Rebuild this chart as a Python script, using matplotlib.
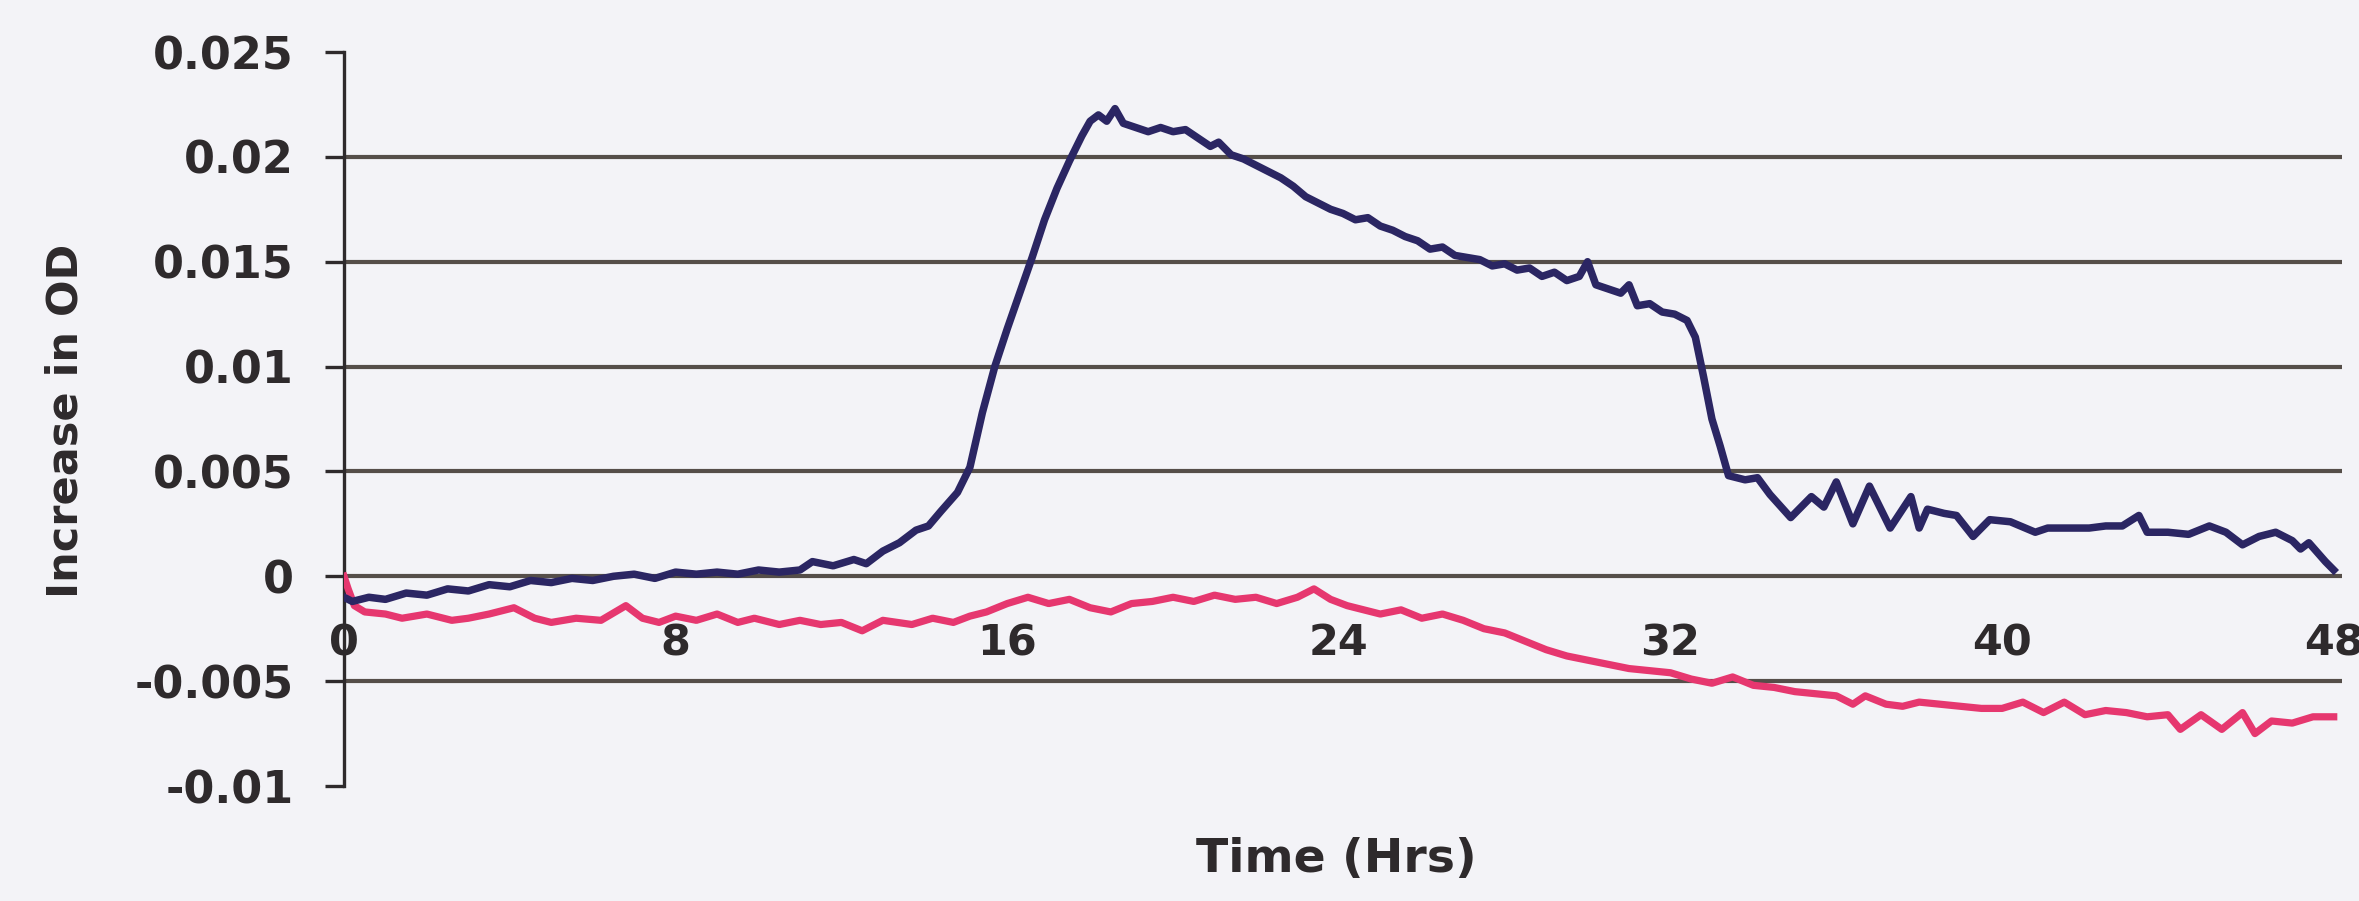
import matplotlib
matplotlib.use("Agg")
import matplotlib.pyplot as plt

# Time course of optical density change (hours vs. increase in OD)
hours_a = [0.0, 0.2, 0.6, 1.0, 1.5, 2.0, 2.5, 3.0, 3.5, 4.0, 4.5, 5.0, 5.5, 6.0,
           6.5, 7.0, 7.5, 8.0, 8.5, 9.0, 9.5, 10.0, 10.5, 11.0, 11.3, 11.8, 12.3,
           12.6, 13.0, 13.4, 13.8, 14.1, 14.4, 14.8, 15.1, 15.4, 15.7, 16.0, 16.3,
           16.6, 16.9, 17.2, 17.5, 17.8, 18.0, 18.2, 18.4, 18.6, 18.8, 19.1, 19.4,
           19.7, 20.0, 20.3, 20.6, 20.9, 21.1, 21.4, 21.7, 22.0, 22.3, 22.6, 22.9,
           23.2, 23.5, 23.8, 24.1, 24.4, 24.7, 25.0, 25.3, 25.6, 25.9, 26.2, 26.5,
           26.8, 27.1, 27.4, 27.7, 28.0, 28.3, 28.6, 28.9, 29.2, 29.5, 29.8, 30.0,
           30.2, 30.5, 30.8, 31.0, 31.2, 31.5, 31.8, 32.1, 32.4, 32.6, 32.8, 33.0,
           33.2, 33.4, 33.8, 34.1, 34.4, 34.9, 35.4, 35.7, 36.0, 36.4, 36.8, 37.3,
           37.8, 38.0, 38.2, 38.6, 38.9, 39.3, 39.7, 40.2, 40.8, 41.1, 41.6, 42.1,
           42.5, 42.9, 43.3, 43.5, 44.0, 44.5, 45.0, 45.4, 45.8, 46.2, 46.6, 47.0,
           47.2, 47.4, 47.8, 48.0]
od_a = [-0.0010, -0.0012, -0.0010, -0.0011, -0.0008, -0.0009, -0.0006, -0.0007,
        -0.0004, -0.0005, -0.0002, -0.0003, -0.0001, -0.0002, 0.0000, 0.0001,
        -0.0001, 0.0002, 0.0001, 0.0002, 0.0001, 0.0003, 0.0002, 0.0003, 0.0007,
        0.0005, 0.0008, 0.0006, 0.0012, 0.0016, 0.0022, 0.0024, 0.0031, 0.0040,
        0.0052, 0.0078, 0.0100, 0.0118, 0.0135, 0.0152, 0.0170, 0.0185, 0.0198,
        0.0210, 0.0217, 0.0220, 0.0217, 0.0223, 0.0216, 0.0214, 0.0212, 0.0214,
        0.0212, 0.0213, 0.0209, 0.0205, 0.0207, 0.0201, 0.0199, 0.0196, 0.0193,
        0.0190, 0.0186, 0.0181, 0.0178, 0.0175, 0.0173, 0.0170, 0.0171, 0.0167,
        0.0165, 0.0162, 0.0160, 0.0156, 0.0157, 0.0153, 0.0152, 0.0151, 0.0148,
        0.0149, 0.0146, 0.0147, 0.0143, 0.0145, 0.0141, 0.0143, 0.0150, 0.0139,
        0.0137, 0.0135, 0.0139, 0.0129, 0.0130, 0.0126, 0.0125, 0.0122, 0.0114,
        0.0095, 0.0075, 0.0062, 0.0048, 0.0046, 0.0047, 0.0039, 0.0028, 0.0038,
        0.0033, 0.0045, 0.0025, 0.0043, 0.0023, 0.0038, 0.0023, 0.0032, 0.0030,
        0.0029, 0.0019, 0.0027, 0.0026, 0.0021, 0.0023, 0.0023, 0.0023, 0.0024,
        0.0024, 0.0029, 0.0021, 0.0021, 0.0020, 0.0024, 0.0021, 0.0015, 0.0019,
        0.0021, 0.0017, 0.0013, 0.0016, 0.0007, 0.0003]

hours_b = [0.0, 0.1, 0.25, 0.5, 1.0, 1.4, 2.0, 2.6, 3.0, 3.5, 4.1, 4.6, 5.0, 5.6,
           6.2, 6.8, 7.2, 7.6, 8.0, 8.5, 9.0, 9.5, 9.9, 10.5, 11.0, 11.5, 12.0,
           12.5, 13.0, 13.7, 14.2, 14.7, 15.1, 15.5, 16.0, 16.5, 17.0, 17.5, 18.0,
           18.5, 19.0, 19.5, 20.0, 20.5, 21.0, 21.5, 22.0, 22.5, 23.0, 23.4, 23.8,
           24.2, 24.6, 25.0, 25.5, 26.0, 26.5, 27.0, 27.5, 28.0, 28.5, 29.0, 29.5,
           30.0, 30.5, 31.0, 31.5, 32.0, 32.5, 33.0, 33.5, 34.0, 34.5, 35.0, 35.5,
           36.0, 36.4, 36.7, 37.2, 37.6, 38.0, 38.5, 39.0, 39.5, 40.0, 40.5, 41.0,
           41.5, 42.0, 42.5, 43.0, 43.5, 44.0, 44.3, 44.8, 45.3, 45.8, 46.1, 46.5,
           47.0, 47.5, 48.0]
od_b = [0.0000, -0.0006, -0.0014, -0.0017, -0.0018, -0.0020, -0.0018, -0.0021,
        -0.0020, -0.0018, -0.0015, -0.0020, -0.0022, -0.0020, -0.0021, -0.0014,
        -0.0020, -0.0022, -0.0019, -0.0021, -0.0018, -0.0022, -0.0020, -0.0023,
        -0.0021, -0.0023, -0.0022, -0.0026, -0.0021, -0.0023, -0.0020, -0.0022,
        -0.0019, -0.0017, -0.0013, -0.0010, -0.0013, -0.0011, -0.0015, -0.0017,
        -0.0013, -0.0012, -0.0010, -0.0012, -0.0009, -0.0011, -0.0010, -0.0013,
        -0.0010, -0.0006, -0.0011, -0.0014, -0.0016, -0.0018, -0.0016, -0.0020,
        -0.0018, -0.0021, -0.0025, -0.0027, -0.0031, -0.0035, -0.0038, -0.0040,
        -0.0042, -0.0044, -0.0045, -0.0046, -0.0049, -0.0051, -0.0048, -0.0052,
        -0.0053, -0.0055, -0.0056, -0.0057, -0.0061, -0.0057, -0.0061, -0.0062,
        -0.0060, -0.0061, -0.0062, -0.0063, -0.0063, -0.0060, -0.0065, -0.0060,
        -0.0066, -0.0064, -0.0065, -0.0067, -0.0066, -0.0073, -0.0066, -0.0073,
        -0.0065, -0.0075, -0.0069, -0.0070, -0.0067, -0.0067]

x_ticks = [0, 8, 16, 24, 32, 40, 48]
y_ticks = [-0.01, -0.005, 0, 0.005, 0.01, 0.015, 0.02, 0.025]
y_tick_labels = ["-0.01", "-0.005", "0", "0.005", "0.01", "0.015", "0.02", "0.025"]

BG = "#f3f3f7"
INK = "#2e2a2c"
GRID = "#554e49"
NAVY = "#2b2663"
PINK = "#e6376f"

plt.rcParams["font.family"] = "DejaVu Sans"
plt.rcParams["font.weight"] = "bold"

W, H = 2359, 901
fig = plt.figure(figsize=(W / 100, H / 100), dpi=100, facecolor=BG)
ax = fig.add_axes([344 / W, 1 - 786 / H, (2342 - 344) / W, (786 - 52) / H])
ax.set_facecolor(BG)

ax.set_xlim(0, 48.2)
ax.set_ylim(-0.01, 0.025)

# horizontal rules at the inner y ticks
for yv in y_ticks[1:-1]:
    ax.axhline(yv, color=GRID, lw=3.0, zorder=1)

ax.plot(hours_b, od_b, color=PINK, lw=5.2, zorder=3, solid_joinstyle="round")
ax.plot(hours_a, od_a, color=NAVY, lw=5.4, zorder=4, solid_joinstyle="round")

for side in ("top", "right"):
    ax.spines[side].set_visible(False)
ax.spines["left"].set_color(INK)
ax.spines["left"].set_linewidth(2.4)
ax.spines["bottom"].set_position(("data", 0))
ax.spines["bottom"].set_visible(False)

ax.set_yticks(y_ticks)
ax.set_yticklabels(y_tick_labels)
ax.tick_params(axis="y", length=14, width=2.4, color=INK, pad=22,
               labelsize=32, labelcolor=INK)
ax.set_xticks(x_ticks)
ax.set_xticklabels([str(v) for v in x_ticks])
ax.tick_params(axis="x", length=0, pad=33, labelsize=31, labelcolor=INK)
for lbl in ax.get_xticklabels() + ax.get_yticklabels():
    lbl.set_fontweight("bold")

fig.text(66 / W, 1 - 421 / H, "Increase in OD", rotation=90, ha="center",
         va="center", fontsize=31, fontweight="bold", color=INK)
fig.text(1336 / W, 1 - 860 / H, "Time (Hrs)", ha="center", va="center",
         fontsize=34, fontweight="bold", color=INK)

fig.savefig("out.png", dpi=100, facecolor=BG)
